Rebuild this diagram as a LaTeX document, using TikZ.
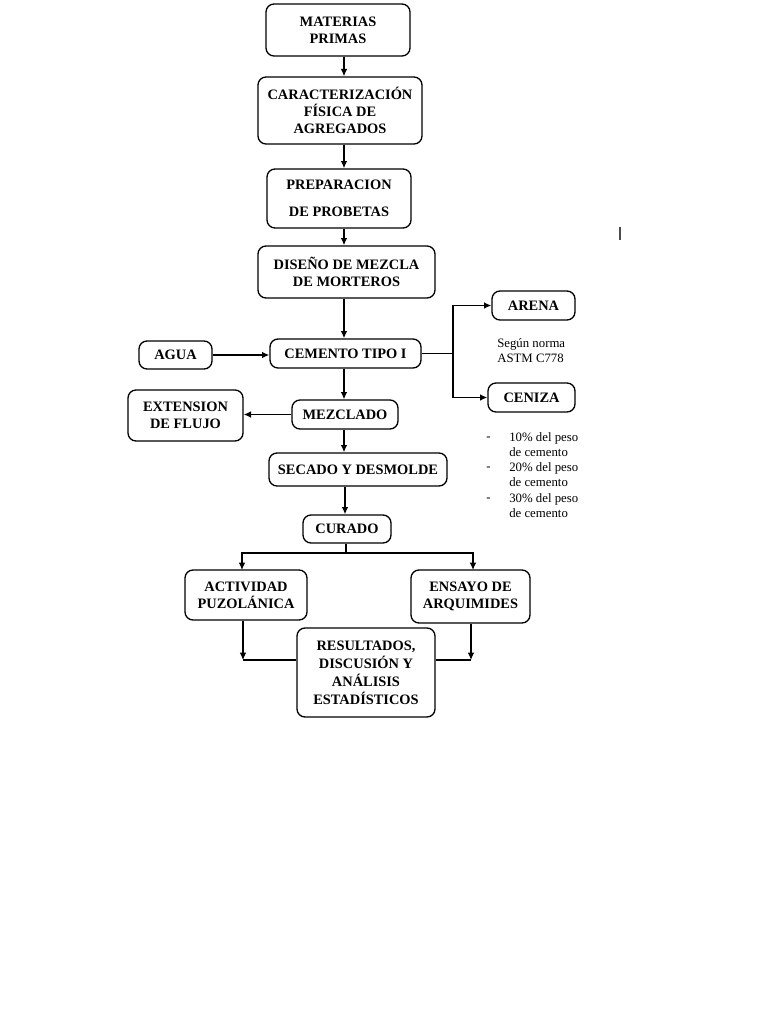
\documentclass[tikz,border=0pt]{standalone}
\usepackage{fontspec}
\setmainfont{Liberation Serif}
\usetikzlibrary{arrows.meta}
\begin{document}
\begin{tikzpicture}[x=0.75pt,y=-0.75pt,
  box/.style={draw, line width=1pt, rounded corners=6pt, inner sep=0pt, align=center,
    font=\bfseries\fontsize{10.8}{13}\selectfont},
  arr/.style={line width=1pt, -{Latex[length=5.5pt,width=5pt]}},
  ln/.style={line width=1pt},
  small/.style={font=\fontsize{9.6}{11.2}\selectfont, inner sep=0pt, anchor=west, align=left}]
\useasboundingbox (0,0) rectangle (768,1024);
\fill[white] (0,0) rectangle (768,1024);

\node[box, minimum width=108pt, minimum height=39pt] (mat) at (338,30) {MATERIAS\\PRIMAS};
\node[box, minimum width=123pt, minimum height=50.25pt] (car) at (340,110.5) {CARACTERIZACIÓN\\FÍSICA DE\\AGREGADOS};
\node[box, minimum width=108pt, minimum height=44.25pt] (pre) at (339,198.5) {PREPARACION\\[7pt]DE PROBETAS};
\node[box, minimum width=132.75pt, minimum height=39pt] (dis) at (346.5,272) {DISEÑO DE MEZCLA\\DE MORTEROS};
\node[box, minimum width=113.25pt, minimum height=21.75pt] (cem) at (345.5,353.5) {CEMENTO TIPO I};
\node[box, minimum width=54.75pt, minimum height=21pt] (agua) at (175.5,355) {AGUA};
\node[box, minimum width=62.25pt, minimum height=21.75pt] (arena) at (533.5,305.5) {ARENA};
\node[box, minimum width=65.25pt, minimum height=21.75pt] (ceniza) at (531.5,397.5) {CENIZA};
\node[small] (norma) at (497,350.5) {Según norma\\ASTM C778};
\node[box, minimum width=79.5pt, minimum height=21.75pt] (mez) at (345,414.5) {MEZCLADO};
\node[box, minimum width=86.25pt, minimum height=38.25pt] (ext) at (185.5,415.5) {EXTENSION\\DE FLUJO};
\node[box, minimum width=133.5pt, minimum height=24.75pt] (sec) at (358,469.5) {SECADO Y DESMOLDE};
\node[box, minimum width=66pt, minimum height=21pt] (cur) at (347,529) {CURADO};
\node[box, minimum width=91.5pt, minimum height=37.5pt] (act) at (246,595) {ACTIVIDAD\\PUZOLÁNICA};
\node[box, minimum width=89.25pt, minimum height=39.75pt] (ens) at (470.5,596.5) {ENSAYO DE\\ARQUIMIDES};
\node[box, minimum width=103.5pt, minimum height=66.75pt, font=\bfseries\fontsize{10.8}{13.5}\selectfont] (res) at (366,672.5) {RESULTADOS,\\DISCUSIÓN Y\\ANÁLISIS\\ESTADÍSTICOS};

% bullet list
\node[small] (d1) at (486,439) {-};
\node[small] (b1) at (509,444.5) {10\% del peso\\de cemento};
\node[small] (d2) at (486,469) {-};
\node[small] (b2) at (509,474.5) {20\% del peso\\de cemento};
\node[small] (d3) at (486,500) {-};
\node[small] (b3) at (509,505.5) {30\% del peso\\de cemento};

% connectors
\draw[arr] (mat.south -| 344,0) -- (car.north -| 344,0);
\draw[arr] (car.south -| 344,0) -- (pre.north -| 344,0);
\draw[arr] (pre.south -| 344,0) -- (dis.north -| 344,0);
\draw[arr] (dis.south -| 344,0) -- (cem.north -| 344,0);
\draw[arr] (agua.east) -- (agua.east -| cem.west);
\coordinate (j) at (453,353.5);
\draw[ln] (cem.east) -- (j);
\draw[arr] (j) |- (arena.west);
\draw[arr] (j) |- (ceniza.west);
\draw[arr] (cem.south -| 344,0) -- (mez.north -| 344,0);
\draw[arr] (mez.west) -- (ext.east |- mez.west);
\draw[arr] (mez.south -| 344,0) -- (sec.north -| 344,0);
\draw[arr] (sec.south -| 345,0) -- (cur.north -| 345,0);
\coordinate (c1) at (346,553);
\draw[ln] (cur.south -| 346,0) -- (c1);
\draw[arr] (c1) -| (242,570);
\draw[arr] (c1) -| (473,570);
\coordinate (ra) at (243,660);
\draw[arr] (act.south -| ra) -- (ra);
\draw[ln] (ra) -- (res.west |- ra);
\coordinate (rb) at (471,660);
\draw[arr] (ens.south -| rb) -- (rb);
\draw[ln] (rb) -- (res.east |- rb);

% stray cursor mark
\draw[line width=1pt, black!70] (620,227) -- (620,240);
\end{tikzpicture}
\end{document}
